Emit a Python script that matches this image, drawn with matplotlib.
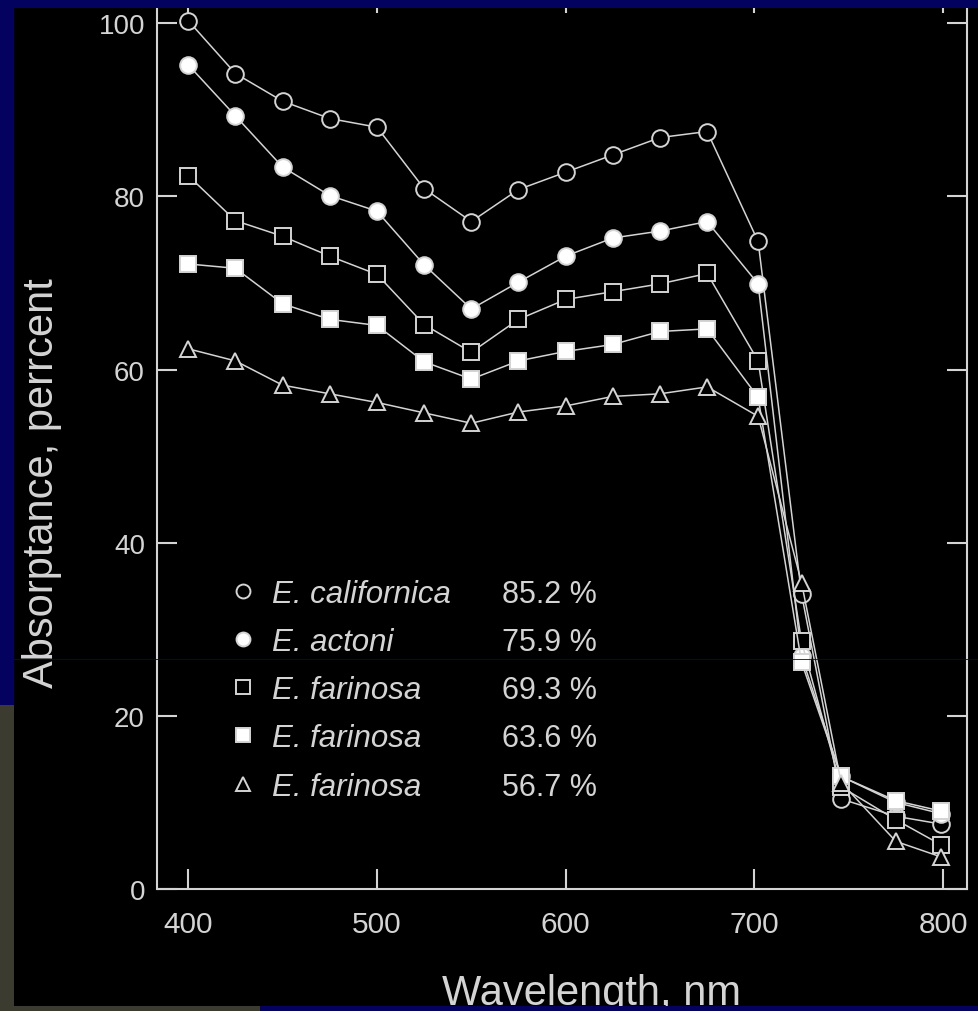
import matplotlib
matplotlib.use("Agg")
import matplotlib.pyplot as plt
from matplotlib.lines import Line2D
from matplotlib.patches import Rectangle

plt.rcParams['font.family'] = ['Liberation Sans', 'DejaVu Sans']

wavelength = [400, 425, 450, 475, 500, 525, 550, 575, 600, 625, 650, 675, 702, 725, 746, 775, 799]

californica = [100.3, 94.2, 91.0, 89.0, 88.0, 80.9, 77.1, 80.8, 82.8, 84.8, 86.8, 87.5, 74.8, 34.1, 10.4, 8.4, 7.5]
actoni = [95.2, 89.3, 83.4, 80.1, 78.3, 72.1, 67.0, 70.1, 73.1, 75.2, 76.0, 77.1, 69.9, 26.9, 13.0, 10.0, 8.7]
farinosa_a = [82.4, 77.2, 75.4, 73.1, 71.0, 65.2, 62.0, 65.8, 68.1, 69.0, 69.9, 71.1, 61.0, 28.6, 11.8, 8.0, 5.1]
farinosa_b = [72.2, 71.7, 67.6, 65.8, 65.1, 60.9, 58.9, 61.0, 62.1, 62.9, 64.4, 64.7, 56.8, 26.2, 13.0, 10.2, 9.0]
farinosa_c = [62.4, 61.0, 58.2, 57.2, 56.2, 55.0, 53.8, 55.1, 55.8, 56.9, 57.2, 58.0, 54.6, 35.4, 12.3, 5.5, 3.7]

species = ['E. californica', 'E. actoni', 'E. farinosa', 'E. farinosa', 'E. farinosa']
percents = ['85.2 %', '75.9 %', '69.3 %', '63.6 %', '56.7 %']
markers = ['o', 'o', 's', 's', '^']
fills = ['black', 'white', 'black', 'white', 'black']

xticks = [400, 500, 600, 700, 800]
yticks = [0, 20, 40, 60, 80, 100]

fg = '#d4d4d4'
navy = '#03035f'
olive = '#3b3b2f'

W, H = 979, 1012
fig = plt.figure(figsize=(W / 100, H / 100), dpi=100, facecolor='black')
ax = fig.add_axes([157.5 / W, 122 / H, 809.5 / W, 896 / H])
ax.set_facecolor('black')

series = [californica, actoni, farinosa_a, farinosa_b, farinosa_c]
for vals, m, fc in zip(series, markers, fills):
    ms = 12 if m != 's' else 11
    ax.plot(wavelength, vals, color=fg, lw=1.1, marker=m, ms=ms,
            mfc=fc, mec=fg, mew=1.4, zorder=3)

ax.set_xlim(383.7, 812.7)
ax.set_ylim(0, 103.5)
ax.set_xticks(xticks)
ax.set_yticks(yticks)
for sp in ax.spines.values():
    sp.set_color(fg)
    sp.set_linewidth(1.5)
ax.tick_params(direction='in', top=True, right=True, length=14.5, width=1.5,
               color=fg, labelcolor=fg, labelsize=20)
ax.tick_params(axis='x', pad=15, labelsize=21.5)
ax.tick_params(axis='y', pad=9)

# legend: markers + italic species names, percentages in a second column
handles = [Line2D([], [], ls='none', marker=m, ms=10, mfc=fc, mec=fg, mew=1.4)
           for m, fc in zip(markers, fills)]
leg = ax.legend(handles, species, loc='upper left',
                bbox_to_anchor=((231 - 157.5) / 809.5, (890 - 580) / 896),
                frameon=False, borderpad=0, borderaxespad=0, handlelength=0.8,
                handletextpad=0.52, labelspacing=0.58,
                prop={'family': 'Liberation Sans', 'style': 'italic', 'size': 22.5})
for t in leg.get_texts():
    t.set_color(fg)

fig.canvas.draw()
for t, p in zip(leg.get_texts(), percents):
    bb = t.get_window_extent()
    fig.text(502 / W, (bb.y0 + bb.y1) / 2 / H, p, color=fg, fontsize=22,
             ha='left', va='center')

fig.text(42 / W, (H - 483) / H, 'Absorptance, perrcent', rotation=90,
         color=fg, fontsize=30, ha='center', va='center')
fig.text(591 / W, (H - 1005) / H, 'Wavelength, nm', color=fg, fontsize=30,
         ha='center', va='baseline')

# slide background around the chart
def band(x0, y0, x1, y1, c):
    fig.add_artist(Rectangle((x0 / W, 1 - y1 / H), (x1 - x0) / W, (y1 - y0) / H,
                             transform=fig.transFigure, facecolor=c,
                             edgecolor='none', zorder=10))

band(0, 0, W, 9, navy)
band(0, 0, 14, 706, navy)
band(0, 706, 14, H, olive)
band(0, 1007, 260, H, olive)
band(260, 1007, W, H, navy)
fig.add_artist(Line2D([14 / W, 1], [1 - 659.5 / H, 1 - 659.5 / H],
                      transform=fig.transFigure, color='#0c0c3a', lw=0.6, zorder=9))

fig.savefig('out.png', dpi=100, facecolor='black')
